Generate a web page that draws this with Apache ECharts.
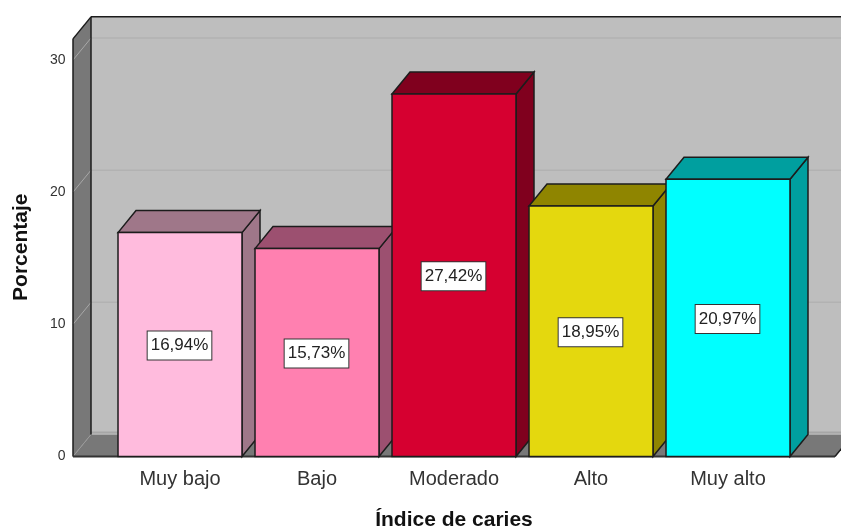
<!DOCTYPE html>
<html>
<head>
<meta charset="utf-8">
<style>html,body{margin:0;padding:0;background:#fff}#c{width:841px;height:530px}</style>
<script src="https://cdn.jsdelivr.net/npm/echarts@6/dist/echarts.min.js"></script>
</head>
<body>
<div id="c"></div>
<script>
const categories = ['Muy bajo', 'Bajo', 'Moderado', 'Alto', 'Muy alto'];
const percentages = [16.94, 15.73, 27.42, 18.95, 20.97];
const frontColors = ['#ffbbdd', '#ff80b0', '#d60030', '#e4d80e', '#00ffff'];
const shadeColors = ['#9f7789', '#9c5070', '#80001e', '#8f8500', '#009f9f'];
const yTicks = [0, 10, 20, 30];

const depthX = 18, depthY = 22;
const wallInset = 38.5, wallTop = 31.6;
const edge = '#1c1c1c';

function poly(points, fill, stroke, lineWidth) {
  return {
    type: 'polygon',
    shape: { points },
    style: { fill, stroke: stroke || 'none', lineWidth: lineWidth || 0 }
  };
}
function line(x1, y1, x2, y2, stroke, lineWidth) {
  return {
    type: 'line',
    shape: { x1, y1, x2, y2 },
    style: { stroke, lineWidth, fill: 'none' }
  };
}

// Back wall, side wall, floor and their gridlines.
function renderRoom(params, api) {
  const cs = params.coordSys;
  const left = cs.x - wallInset;
  const right = cs.x + cs.width + wallInset;
  const bottom = api.coord([0, 0])[1];
  const top = api.coord([0, wallTop])[1];
  const kids = [
    poly([[left + depthX, top - depthY], [right + depthX, top - depthY],
          [right + depthX, bottom - depthY], [left + depthX, bottom - depthY]], '#bebebe'),
    poly([[left, top], [left + depthX, top - depthY], [left + depthX, bottom - depthY], [left, bottom]], '#787878'),
    poly([[left, bottom], [left + depthX, bottom - depthY], [right + depthX, bottom - depthY], [right, bottom]], '#787878')
  ];
  yTicks.slice(1).forEach(t => {
    const y = api.coord([0, t])[1];
    kids.push(line(left + depthX, y - depthY, right + depthX, y - depthY, '#b2b2b2', 1.5));
    kids.push(line(left, y, left + depthX, y - depthY, '#a8a8a8', 1));
  });
  kids.push(line(left, bottom, left + depthX, bottom - depthY, '#9a9a9a', 1));
  kids.push(line(left + depthX, bottom - depthY - 2, right + depthX, bottom - depthY - 2, '#a6a6a6', 2));
  kids.push(line(left, top, left, bottom, edge, 1.5));
  kids.push(line(left, top, left + depthX, top - depthY, edge, 1.5));
  kids.push(line(left + depthX, top - depthY, left + depthX, bottom - depthY, edge, 1.5));
  kids.push(line(left + depthX, top - depthY, right + depthX, top - depthY, edge, 1.5));
  kids.push(line(left, bottom, right, bottom, '#333', 2));
  kids.push(line(right, bottom, right + depthX, bottom - depthY, edge, 1.5));
  return { type: 'group', children: kids };
}

// One extruded bar with its boxed percentage at mid height.
function renderBar(params, api) {
  const i = api.value(0), v = api.value(1);
  const tip = api.coord([i, v]);
  const base = api.coord([i, 0]);
  const mid = api.coord([i, v / 2]);
  const w = api.size([1, 0])[0] * 0.905;
  const x0 = tip[0] - w / 2, x1 = tip[0] + w / 2;
  const yt = tip[1], yb = base[1];
  const front = frontColors[i], shade = shadeColors[i];
  return {
    type: 'group',
    children: [
      poly([[x1, yb], [x1 + depthX, yb - depthY], [x1 + depthX, yt - depthY], [x1, yt]], shade, edge, 1.5),
      poly([[x0, yt], [x0 + depthX, yt - depthY], [x1 + depthX, yt - depthY], [x1, yt]], shade, edge, 1.5),
      poly([[x0, yt], [x1, yt], [x1, yb], [x0, yb]], front, edge, 1.5),
      {
        type: 'text',
        x: mid[0] - 0.5,
        y: mid[1] + 1,
        style: {
          text: v.toFixed(2).replace('.', ',') + '%',
          font: '17px "Liberation Sans", Arial, sans-serif',
          fill: '#222',
          align: 'center',
          verticalAlign: 'middle',
          backgroundColor: '#fff',
          borderColor: '#333',
          borderWidth: 1,
          padding: [6, 3, 5, 3]
        }
      }
    ]
  };
}

const chart = echarts.init(document.getElementById('c'), null, { renderer: 'canvas' });
chart.setOption({
  animation: false,
  backgroundColor: '#ffffff',
  grid: { left: 111.5, width: 685, top: 60, height: 396.5, containLabel: false, outerBoundsMode: 'none' },
  xAxis: {
    type: 'category',
    data: categories,
    axisLine: { show: false },
    axisTick: { show: false },
    axisLabel: { color: '#333', fontSize: 20, fontFamily: '"Liberation Sans", Arial, sans-serif', margin: 13, interval: 0 },
    name: 'Índice de caries',
    nameLocation: 'middle',
    nameGap: 53,
    nameTextStyle: { color: '#111', fontSize: 21, fontWeight: 'bold', fontFamily: '"Liberation Sans", Arial, sans-serif' }
  },
  yAxis: {
    type: 'value',
    min: 0,
    max: 30,
    interval: 10,
    splitLine: { show: false },
    axisLine: { show: false },
    axisTick: { show: false },
    axisLabel: { color: '#333', fontSize: 14, fontFamily: '"Liberation Sans", Arial, sans-serif', margin: 46, padding: [6, 0, 0, 0] },
    name: 'Porcentaje',
    nameLocation: 'middle',
    nameRotate: 90,
    nameGap: 80,
    nameTextStyle: { color: '#111', fontSize: 21, fontWeight: 'bold', fontFamily: '"Liberation Sans", Arial, sans-serif', padding: [0, 0, 0, 22] }
  },
  series: [
    { type: 'custom', coordinateSystem: 'cartesian2d', clip: false, z: 1, silent: true,
      renderItem: renderRoom, data: [[0, 0]], encode: { x: 0, y: 1 } },
    { type: 'custom', coordinateSystem: 'cartesian2d', clip: false, z: 2,
      renderItem: renderBar, data: percentages.map((v, i) => [i, v]), encode: { x: 0, y: 1 } }
  ]
});
</script>
</body>
</html>
